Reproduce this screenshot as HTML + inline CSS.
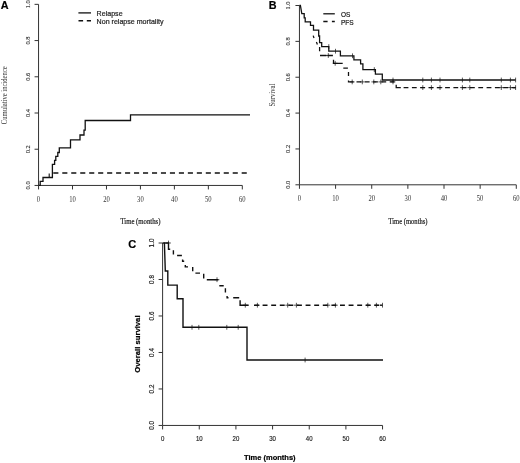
<!DOCTYPE html>
<html lang="en"><head><meta charset="utf-8"><title>Figure: relapse, survival curves</title>
<style>html,body{margin:0;padding:0;background:#fff;overflow:hidden}svg{display:block;filter:grayscale(1)}</style></head><body>
<svg width="520" height="463" viewBox="0 0 520 463">
<rect width="520" height="463" fill="#fff"/>
<g id="panelA">
<path d="M38.55,4.35V185.45H242.31M38.55,185.45v4.0M72.51,185.45v4.0M106.47,185.45v4.0M140.43,185.45v4.0M174.39,185.45v4.0M208.35,185.45v4.0M242.31,185.45v4.0M38.55,185.45h-4.0M38.55,149.23h-4.0M38.55,113.01h-4.0M38.55,76.79h-4.0M38.55,40.57h-4.0M38.55,4.35h-4.0" fill="none" stroke="#333" stroke-width="1.0"/>
<text x="38.5" y="201.7" font-family='"Liberation Serif", serif' font-size="7.3" text-anchor="middle" fill="#333" stroke="#333" stroke-width="0" textLength="3.3" lengthAdjust="spacingAndGlyphs">0</text>
<text x="72.5" y="201.7" font-family='"Liberation Serif", serif' font-size="7.3" text-anchor="middle" fill="#333" stroke="#333" stroke-width="0" textLength="6.6" lengthAdjust="spacingAndGlyphs">10</text>
<text x="106.5" y="201.7" font-family='"Liberation Serif", serif' font-size="7.3" text-anchor="middle" fill="#333" stroke="#333" stroke-width="0" textLength="6.6" lengthAdjust="spacingAndGlyphs">20</text>
<text x="140.4" y="201.7" font-family='"Liberation Serif", serif' font-size="7.3" text-anchor="middle" fill="#333" stroke="#333" stroke-width="0" textLength="6.6" lengthAdjust="spacingAndGlyphs">30</text>
<text x="174.4" y="201.7" font-family='"Liberation Serif", serif' font-size="7.3" text-anchor="middle" fill="#333" stroke="#333" stroke-width="0" textLength="6.6" lengthAdjust="spacingAndGlyphs">40</text>
<text x="208.3" y="201.7" font-family='"Liberation Serif", serif' font-size="7.3" text-anchor="middle" fill="#333" stroke="#333" stroke-width="0" textLength="6.6" lengthAdjust="spacingAndGlyphs">50</text>
<text x="242.3" y="201.7" font-family='"Liberation Serif", serif' font-size="7.3" text-anchor="middle" fill="#333" stroke="#333" stroke-width="0" textLength="6.6" lengthAdjust="spacingAndGlyphs">60</text>
<text transform="translate(30.1,185.4) rotate(-90)" font-family='"Liberation Serif", serif' font-size="7.1" text-anchor="middle" fill="#222" stroke="#222" stroke-width="0.12" textLength="8.0" lengthAdjust="spacingAndGlyphs">0.0</text>
<text transform="translate(30.1,149.2) rotate(-90)" font-family='"Liberation Serif", serif' font-size="7.1" text-anchor="middle" fill="#222" stroke="#222" stroke-width="0.12" textLength="8.0" lengthAdjust="spacingAndGlyphs">0.2</text>
<text transform="translate(30.1,113.0) rotate(-90)" font-family='"Liberation Serif", serif' font-size="7.1" text-anchor="middle" fill="#222" stroke="#222" stroke-width="0.12" textLength="8.0" lengthAdjust="spacingAndGlyphs">0.4</text>
<text transform="translate(30.1,76.8) rotate(-90)" font-family='"Liberation Serif", serif' font-size="7.1" text-anchor="middle" fill="#222" stroke="#222" stroke-width="0.12" textLength="8.0" lengthAdjust="spacingAndGlyphs">0.6</text>
<text transform="translate(30.1,40.6) rotate(-90)" font-family='"Liberation Serif", serif' font-size="7.1" text-anchor="middle" fill="#222" stroke="#222" stroke-width="0.12" textLength="8.0" lengthAdjust="spacingAndGlyphs">0.8</text>
<text transform="translate(30.1,4.3) rotate(-90)" font-family='"Liberation Serif", serif' font-size="7.1" text-anchor="middle" fill="#222" stroke="#222" stroke-width="0.12" textLength="8.0" lengthAdjust="spacingAndGlyphs">1.0</text>
<text x="140.4" y="224.2" font-family='"Liberation Serif", serif' font-size="7.3" font-weight="normal" text-anchor="middle" fill="#222" stroke="#222" stroke-width="0.2" textLength="40.0" lengthAdjust="spacingAndGlyphs">Time (months)</text>
<text transform="translate(6.7,95.3) rotate(-90)" font-family='"Liberation Serif", serif' font-size="7.2" font-weight="normal" text-anchor="middle" fill="#333" stroke="#333" stroke-width="0" textLength="57.8" lengthAdjust="spacingAndGlyphs">Cumulative incidence</text>
<text x="0.7" y="9.1" font-family='"Liberation Sans", sans-serif' font-size="10.8" font-weight="bold" text-anchor="start" fill="#000" stroke="#000" stroke-width="0.2">A</text>
<path d="M49.2,177.6V173.4" fill="none" stroke="#111" stroke-width="1.1" stroke-linejoin="miter" stroke-linecap="butt"/>
<path d="M53.3,172.9H247.2" fill="none" stroke="#111" stroke-width="1.45" stroke-linejoin="miter" stroke-linecap="butt" stroke-dasharray="5.1 3.87"/>
<path d="M38.55,185.45H40.2V181.3H43V177.5H52.4V164.3H54.6V160.3H55.8V156.4H57.8V152.5H59.3V147.8H70.5V139.9H80V135H84V130.1H85.2V120.5H130.5V114.9H250" fill="none" stroke="#111" stroke-width="1.3" stroke-linejoin="miter" stroke-linecap="butt"/>
<path d="M78.4,12.9H91" fill="none" stroke="#111" stroke-width="1.3" stroke-linejoin="miter" stroke-linecap="butt"/>
<path d="M78.5,20.7H91" fill="none" stroke="#111" stroke-width="1.45" stroke-linejoin="miter" stroke-linecap="butt" stroke-dasharray="4.6 3.7"/>
<text x="96.6" y="15.9" font-family='"Liberation Sans", sans-serif' font-size="7.08" font-weight="normal" text-anchor="start" fill="#222" stroke="#222" stroke-width="0.2">Relapse</text>
<text x="96.6" y="23.9" font-family='"Liberation Sans", sans-serif' font-size="7.08" font-weight="normal" text-anchor="start" fill="#222" stroke="#222" stroke-width="0.2">Non relapse mortality</text>
</g>
<g id="panelB">
<path d="M299.45,5.50V184.80H516.29M299.45,184.80v4.0M335.59,184.80v4.0M371.73,184.80v4.0M407.87,184.80v4.0M444.01,184.80v4.0M480.15,184.80v4.0M516.29,184.80v4.0M299.45,184.80h-4.0M299.45,148.94h-4.0M299.45,113.08h-4.0M299.45,77.22h-4.0M299.45,41.36h-4.0M299.45,5.50h-4.0" fill="none" stroke="#333" stroke-width="1.0"/>
<text x="299.4" y="201.2" font-family='"Liberation Serif", serif' font-size="7.3" text-anchor="middle" fill="#333" stroke="#333" stroke-width="0" textLength="3.3" lengthAdjust="spacingAndGlyphs">0</text>
<text x="335.6" y="201.2" font-family='"Liberation Serif", serif' font-size="7.3" text-anchor="middle" fill="#333" stroke="#333" stroke-width="0" textLength="6.6" lengthAdjust="spacingAndGlyphs">10</text>
<text x="371.7" y="201.2" font-family='"Liberation Serif", serif' font-size="7.3" text-anchor="middle" fill="#333" stroke="#333" stroke-width="0" textLength="6.6" lengthAdjust="spacingAndGlyphs">20</text>
<text x="407.9" y="201.2" font-family='"Liberation Serif", serif' font-size="7.3" text-anchor="middle" fill="#333" stroke="#333" stroke-width="0" textLength="6.6" lengthAdjust="spacingAndGlyphs">30</text>
<text x="444.0" y="201.2" font-family='"Liberation Serif", serif' font-size="7.3" text-anchor="middle" fill="#333" stroke="#333" stroke-width="0" textLength="6.6" lengthAdjust="spacingAndGlyphs">40</text>
<text x="480.1" y="201.2" font-family='"Liberation Serif", serif' font-size="7.3" text-anchor="middle" fill="#333" stroke="#333" stroke-width="0" textLength="6.6" lengthAdjust="spacingAndGlyphs">50</text>
<text x="516.3" y="201.2" font-family='"Liberation Serif", serif' font-size="7.3" text-anchor="middle" fill="#333" stroke="#333" stroke-width="0" textLength="6.6" lengthAdjust="spacingAndGlyphs">60</text>
<text transform="translate(290.4,184.8) rotate(-90)" font-family='"Liberation Serif", serif' font-size="7.1" text-anchor="middle" fill="#222" stroke="#222" stroke-width="0.12" textLength="8.0" lengthAdjust="spacingAndGlyphs">0.0</text>
<text transform="translate(290.4,148.9) rotate(-90)" font-family='"Liberation Serif", serif' font-size="7.1" text-anchor="middle" fill="#222" stroke="#222" stroke-width="0.12" textLength="8.0" lengthAdjust="spacingAndGlyphs">0.2</text>
<text transform="translate(290.4,113.1) rotate(-90)" font-family='"Liberation Serif", serif' font-size="7.1" text-anchor="middle" fill="#222" stroke="#222" stroke-width="0.12" textLength="8.0" lengthAdjust="spacingAndGlyphs">0.4</text>
<text transform="translate(290.4,77.2) rotate(-90)" font-family='"Liberation Serif", serif' font-size="7.1" text-anchor="middle" fill="#222" stroke="#222" stroke-width="0.12" textLength="8.0" lengthAdjust="spacingAndGlyphs">0.6</text>
<text transform="translate(290.4,41.4) rotate(-90)" font-family='"Liberation Serif", serif' font-size="7.1" text-anchor="middle" fill="#222" stroke="#222" stroke-width="0.12" textLength="8.0" lengthAdjust="spacingAndGlyphs">0.8</text>
<text transform="translate(290.4,5.5) rotate(-90)" font-family='"Liberation Serif", serif' font-size="7.1" text-anchor="middle" fill="#222" stroke="#222" stroke-width="0.12" textLength="8.0" lengthAdjust="spacingAndGlyphs">1.0</text>
<text x="408.0" y="223.8" font-family='"Liberation Serif", serif' font-size="7.3" font-weight="normal" text-anchor="middle" fill="#222" stroke="#222" stroke-width="0.2" textLength="39.1" lengthAdjust="spacingAndGlyphs">Time (months)</text>
<text transform="translate(274.5,95.0) rotate(-90)" font-family='"Liberation Serif", serif' font-size="7.2" font-weight="normal" text-anchor="middle" fill="#333" stroke="#333" stroke-width="0" textLength="23.0" lengthAdjust="spacingAndGlyphs">Survival</text>
<text x="268.8" y="9.3" font-family='"Liberation Sans", sans-serif' font-size="10.8" font-weight="bold" text-anchor="start" fill="#000" stroke="#000" stroke-width="0.2">B</text>
<path d="M313.2,35.6L314,38M316.4,42.1L317.4,44.4M319.6,47.1V51.2M320,55.5H326.5M327.5,55.5H332.9M333.5,59.8V63.3H342.7M343.3,68.1H347.9M348.5,71.9V76" fill="none" stroke="#111" stroke-width="1.28" stroke-linejoin="miter" stroke-linecap="butt"/>
<path d="M348.5,80.6V81.9H353.6" fill="none" stroke="#111" stroke-width="1.28" stroke-linejoin="miter" stroke-linecap="butt"/>
<path d="M356.5,81.9H396" fill="none" stroke="#111" stroke-width="1.3" stroke-linejoin="miter" stroke-linecap="butt" stroke-dasharray="4.8 3.5"/>
<path d="M396.2,84.7V87.6H400.8" fill="none" stroke="#111" stroke-width="1.28" stroke-linejoin="miter" stroke-linecap="butt"/>
<path d="M403.6,87.6H515.6" fill="none" stroke="#111" stroke-width="1.3" stroke-linejoin="miter" stroke-linecap="butt" stroke-dasharray="4.8 3.5"/>
<path d="M328.3,53.1v4.8M325.9,55.5h4.8M335.2,60.9v4.8M332.8,63.3h4.8M352.2,79.5v4.8M349.8,81.9h4.8M362.3,79.5v4.8M359.9,81.9h4.8M373.8,79.5v4.8M371.4,81.9h4.8M380.8,79.5v4.8M378.4,81.9h4.8M393.0,79.5v4.8M390.6,81.9h4.8M422.8,85.2v4.8M420.4,87.6h4.8M431.4,85.2v4.8M429.0,87.6h4.8M440.0,85.2v4.8M437.6,87.6h4.8M462.4,85.2v4.8M460.0,87.6h4.8M469.8,85.2v4.8M467.4,87.6h4.8M501.3,85.2v4.8M498.9,87.6h4.8M510.4,85.2v4.8M508.0,87.6h4.8" fill="none" stroke="#111" stroke-width="0.7"/>
<path d="M515.6,85.2v4.8" fill="none" stroke="#111" stroke-width="0.7"/>
<path d="M513,87.6H515.6" fill="none" stroke="#111" stroke-width="1.3" stroke-linejoin="miter" stroke-linecap="butt"/>
<path d="M299.45,5.5H300.4L301.8,13.6H304.2V17.9H305.2V21.9H310.5V25.4H313.5V30.2H318.7V36H319.6V42.6H321.7V46.6H328.8V51.2H340.4V55.8H353.9V59.8H360.6V63.8H362.9V69.6H375.4V74.2H382.3V80H515.6" fill="none" stroke="#111" stroke-width="1.28" stroke-linejoin="miter" stroke-linecap="butt"/>
<path d="M328.8,44.2v4.8M335.5,48.8v4.8M352.5,53.4v4.8M374.3,67.2v4.8M393.0,77.6v4.8M422.8,77.6v4.8M431.4,77.6v4.8M440.0,77.6v4.8M462.4,77.6v4.8M469.8,77.6v4.8M501.3,77.6v4.8M510.4,77.6v4.8M515.6,77.6v4.8" fill="none" stroke="#111" stroke-width="0.7"/>
<path d="M323.3,13.8H334.8" fill="none" stroke="#111" stroke-width="1.28" stroke-linejoin="miter" stroke-linecap="butt"/>
<path d="M323.3,21.5H334.8" fill="none" stroke="#111" stroke-width="1.3" stroke-linejoin="miter" stroke-linecap="butt" stroke-dasharray="4.3 4.3"/>
<text x="340.9" y="16.7" font-family='"Liberation Sans", sans-serif' font-size="6.5" font-weight="normal" text-anchor="start" fill="#222" stroke="#222" stroke-width="0.2">OS</text>
<text x="340.9" y="24.9" font-family='"Liberation Sans", sans-serif' font-size="6.5" font-weight="normal" text-anchor="start" fill="#222" stroke="#222" stroke-width="0.2">PFS</text>
</g>
<g id="panelC">
<path d="M162.60,243.00V425.45H382.56M162.60,425.45v4.0M199.26,425.45v4.0M235.92,425.45v4.0M272.58,425.45v4.0M309.24,425.45v4.0M345.90,425.45v4.0M382.56,425.45v4.0M162.60,425.45h-4.0M162.60,388.96h-4.0M162.60,352.47h-4.0M162.60,315.98h-4.0M162.60,279.49h-4.0M162.60,243.00h-4.0" fill="none" stroke="#333" stroke-width="1.0"/>
<text x="162.6" y="441.2" font-family='"Liberation Sans", sans-serif' font-size="6.5" text-anchor="middle" fill="#1a1a1a" stroke="#1a1a1a" stroke-width="0.15" textLength="3.4" lengthAdjust="spacingAndGlyphs">0</text>
<text x="199.3" y="441.2" font-family='"Liberation Sans", sans-serif' font-size="6.5" text-anchor="middle" fill="#1a1a1a" stroke="#1a1a1a" stroke-width="0.15" textLength="6.7" lengthAdjust="spacingAndGlyphs">10</text>
<text x="235.9" y="441.2" font-family='"Liberation Sans", sans-serif' font-size="6.5" text-anchor="middle" fill="#1a1a1a" stroke="#1a1a1a" stroke-width="0.15" textLength="6.7" lengthAdjust="spacingAndGlyphs">20</text>
<text x="272.6" y="441.2" font-family='"Liberation Sans", sans-serif' font-size="6.5" text-anchor="middle" fill="#1a1a1a" stroke="#1a1a1a" stroke-width="0.15" textLength="6.7" lengthAdjust="spacingAndGlyphs">30</text>
<text x="309.2" y="441.2" font-family='"Liberation Sans", sans-serif' font-size="6.5" text-anchor="middle" fill="#1a1a1a" stroke="#1a1a1a" stroke-width="0.15" textLength="6.7" lengthAdjust="spacingAndGlyphs">40</text>
<text x="345.9" y="441.2" font-family='"Liberation Sans", sans-serif' font-size="6.5" text-anchor="middle" fill="#1a1a1a" stroke="#1a1a1a" stroke-width="0.15" textLength="6.7" lengthAdjust="spacingAndGlyphs">50</text>
<text x="382.6" y="441.2" font-family='"Liberation Sans", sans-serif' font-size="6.5" text-anchor="middle" fill="#1a1a1a" stroke="#1a1a1a" stroke-width="0.15" textLength="6.7" lengthAdjust="spacingAndGlyphs">60</text>
<text transform="translate(153.8,425.4) rotate(-90)" font-family='"Liberation Sans", sans-serif' font-size="6.3" text-anchor="middle" fill="#1a1a1a" stroke="#1a1a1a" stroke-width="0.15">0.0</text>
<text transform="translate(153.8,389.0) rotate(-90)" font-family='"Liberation Sans", sans-serif' font-size="6.3" text-anchor="middle" fill="#1a1a1a" stroke="#1a1a1a" stroke-width="0.15">0.2</text>
<text transform="translate(153.8,352.5) rotate(-90)" font-family='"Liberation Sans", sans-serif' font-size="6.3" text-anchor="middle" fill="#1a1a1a" stroke="#1a1a1a" stroke-width="0.15">0.4</text>
<text transform="translate(153.8,316.0) rotate(-90)" font-family='"Liberation Sans", sans-serif' font-size="6.3" text-anchor="middle" fill="#1a1a1a" stroke="#1a1a1a" stroke-width="0.15">0.6</text>
<text transform="translate(153.8,279.5) rotate(-90)" font-family='"Liberation Sans", sans-serif' font-size="6.3" text-anchor="middle" fill="#1a1a1a" stroke="#1a1a1a" stroke-width="0.15">0.8</text>
<text transform="translate(153.8,243.0) rotate(-90)" font-family='"Liberation Sans", sans-serif' font-size="6.3" text-anchor="middle" fill="#1a1a1a" stroke="#1a1a1a" stroke-width="0.15">1.0</text>
<text x="269.8" y="460.1" font-family='"Liberation Sans", sans-serif' font-size="7.7" font-weight="bold" text-anchor="middle" fill="#000" stroke="#000" stroke-width="0.2" textLength="51.6" lengthAdjust="spacingAndGlyphs">Time (months)</text>
<text transform="translate(140.2,344.1) rotate(-90)" font-family='"Liberation Sans", sans-serif' font-size="7.7" font-weight="bold" text-anchor="middle" fill="#000" stroke="#000" stroke-width="0.2">Overall survival</text>
<text x="128.3" y="247.5" font-family='"Liberation Sans", sans-serif' font-size="11.0" font-weight="bold" text-anchor="start" fill="#000" stroke="#000" stroke-width="0.2">C</text>
<path d="M164.4,243H168.5V249.2H170.2M173.4,250.2V254.5M177.1,255.5H181.9M182.6,259.5V261.3H184.2M185.3,265V266.9H188M192.7,267V271.3M195.4,273.1H200M203.7,273.7V278.4M206.8,279.7H218.3M219.3,285.7H223.7M225.4,288.2V292.5M227.1,296V297.7H228.5M233.2,297.7H239.2M240.1,300.3V305.2H248.7" fill="none" stroke="#111" stroke-width="1.4" stroke-linejoin="miter" stroke-linecap="butt"/>
<path d="M254,305.2H382.5" fill="none" stroke="#111" stroke-width="1.4" stroke-linejoin="miter" stroke-linecap="butt" stroke-dasharray="4.9 3.7"/>
<path d="M168.5,240.6v4.8M166.1,243.0h4.8M217.0,277.3v4.8M214.6,279.7h4.8M245.3,302.8v4.8M242.9,305.2h4.8M257.4,302.8v4.8M255.0,305.2h4.8M287.7,302.8v4.8M285.3,305.2h4.8M296.4,302.8v4.8M294.0,305.2h4.8M327.8,302.8v4.8M325.4,305.2h4.8M335.4,302.8v4.8M333.0,305.2h4.8M367.8,302.8v4.8M365.4,305.2h4.8M376.4,302.8v4.8M374.0,305.2h4.8" fill="none" stroke="#111" stroke-width="0.7"/>
<path d="M382.5,302.8v4.8" fill="none" stroke="#111" stroke-width="0.7"/>
<path d="M380,305.2H382.5" fill="none" stroke="#111" stroke-width="1.4" stroke-linejoin="miter" stroke-linecap="butt"/>
<path d="M162.6,243H164.4L165.3,271H167.8V285.1H177.2V298.8H183V327.3H247V360H383" fill="none" stroke="#111" stroke-width="1.4" stroke-linejoin="miter" stroke-linecap="butt"/>
<path d="M192.0,324.9v4.8M198.8,324.9v4.8M226.8,324.9v4.8M238.2,324.9v4.8M305.1,357.6v4.8" fill="none" stroke="#111" stroke-width="0.7"/>
</g>
</svg>
</body></html>
